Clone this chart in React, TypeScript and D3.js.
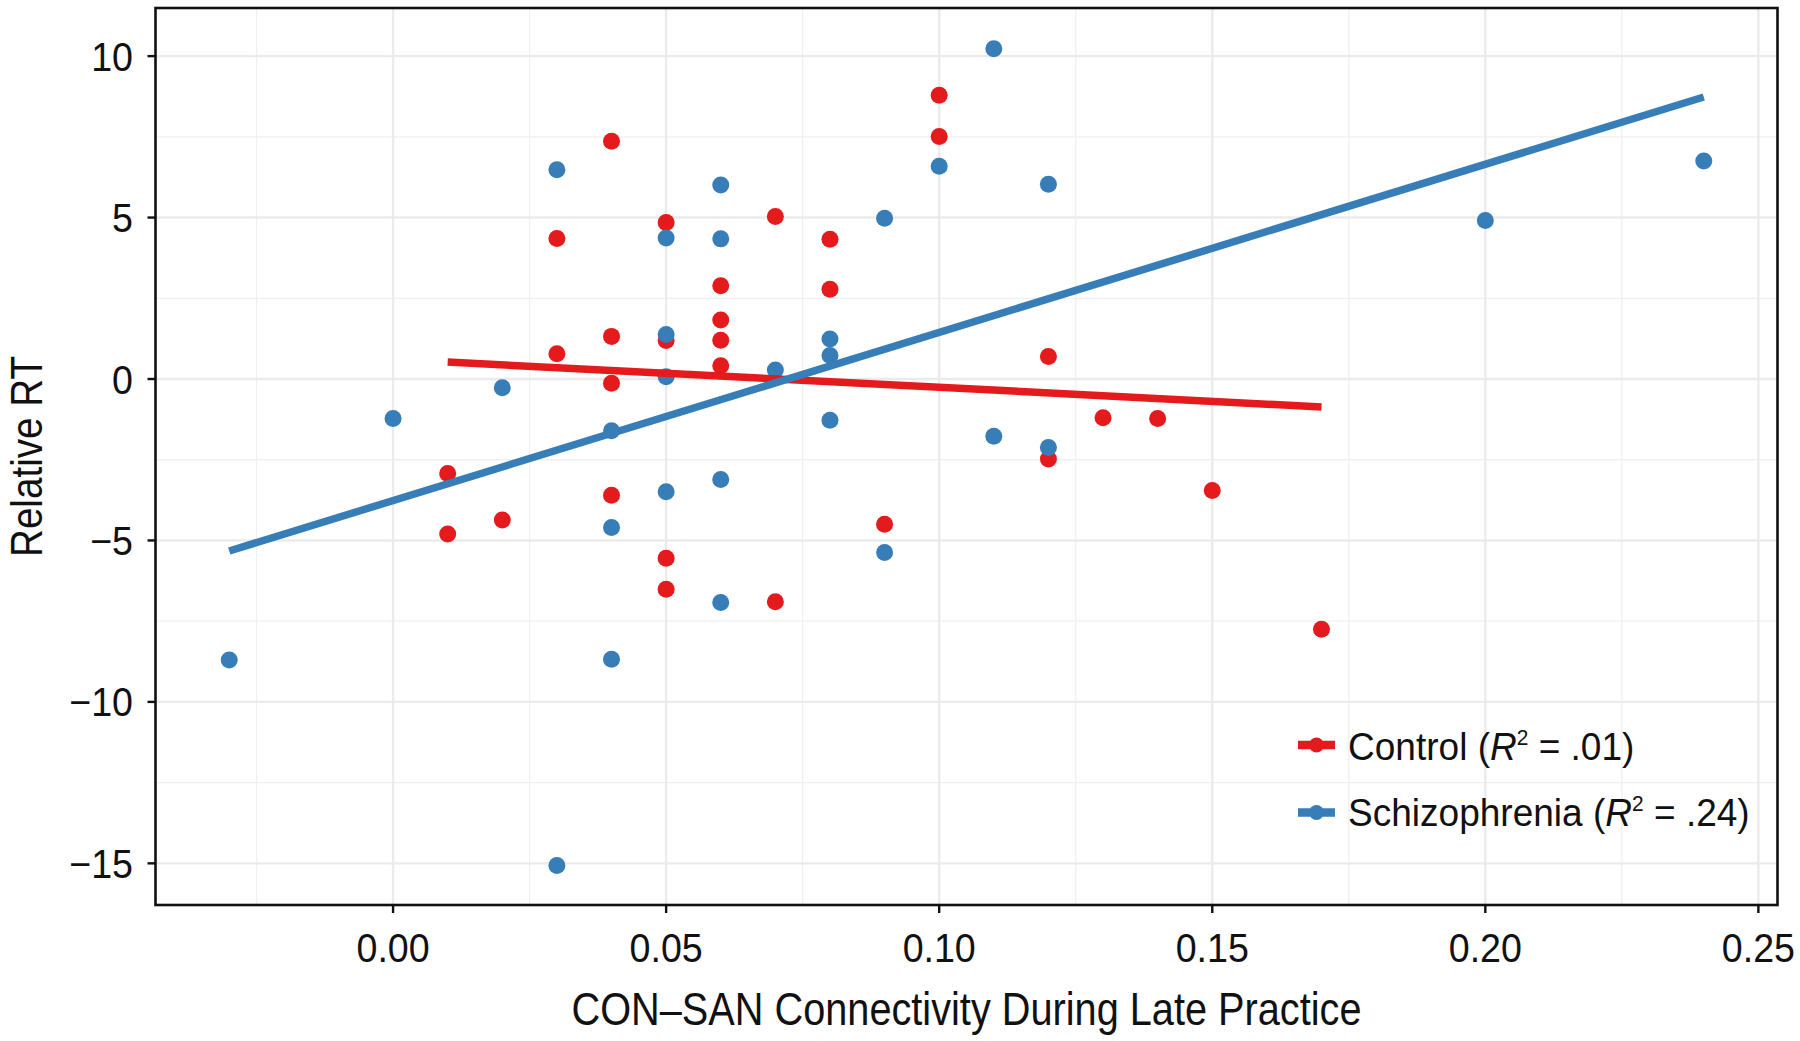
import React from "react";
import * as d3 from "d3";

// Control group (red)
const controlX = [0.01, 0.01, 0.02, 0.03, 0.03, 0.04, 0.04, 0.04, 0.04, 0.05, 0.05, 0.05, 0.05, 0.06, 0.06, 0.06, 0.06, 0.07, 0.07, 0.08, 0.08, 0.09, 0.10, 0.10, 0.12, 0.12, 0.13, 0.14, 0.15, 0.17];
const controlY = [-2.93, -4.8, -4.37, 4.35, 0.78, 7.36, 1.32, -0.13, -3.6, 4.85, 1.19, -5.55, -6.51, 2.89, 1.83, 1.2, 0.41, 5.03, -6.9, 4.33, 2.78, -4.5, 8.79, 7.51, 0.7, -2.48, -1.2, -1.22, -3.45, -7.75];

// Schizophrenia group (blue)
const schizX = [-0.03, 0.0, 0.02, 0.03, 0.03, 0.04, 0.04, 0.04, 0.05, 0.05, 0.05, 0.05, 0.06, 0.06, 0.06, 0.06, 0.07, 0.08, 0.08, 0.08, 0.09, 0.09, 0.10, 0.11, 0.11, 0.12, 0.12, 0.20, 0.24];
const schizY = [-8.7, -1.22, -0.27, 6.48, -15.07, -1.6, -4.6, -8.68, 4.37, 1.38, 0.07, -3.49, 6.01, 4.34, -3.11, -6.92, 0.28, 1.24, 0.73, -1.28, 4.98, -5.37, 6.59, 10.23, -1.77, 6.03, -2.12, 4.91, 6.75];

const xTicks = [0.0, 0.05, 0.1, 0.15, 0.2, 0.25];
const xMinor = [-0.025, 0.025, 0.075, 0.125, 0.175, 0.225];
const yTicks = [-15, -10, -5, 0, 5, 10];
const yMinor = [-12.5, -7.5, -2.5, 2.5, 7.5];

const groupNames = ["Control", "Schizophrenia"];
const groupR2 = [".01", ".24"];
const colors = ["#E41A1C", "#377EB8"];

const xTitle = "CON\u2013SAN Connectivity During Late Practice";
const yTitle = "Relative RT";

function fit(xs: number[], ys: number[]) {
  const mx = d3.mean(xs) as number;
  const my = d3.mean(ys) as number;
  let sxy = 0, sxx = 0;
  xs.forEach((x, i) => {
    sxy += (x - mx) * (ys[i] - my);
    sxx += (x - mx) * (x - mx);
  });
  const b = sxy / sxx;
  const a = my - b * mx;
  const x0 = d3.min(xs) as number;
  const x1 = d3.max(xs) as number;
  return [
    [x0, a + b * x0],
    [x1, a + b * x1],
  ] as [number, number][];
}

const W = 1800;
const H = 1041;
const L = 155.5, R = 1777.5, T = 8, B = 905;
const FONT = "'Liberation Sans', Arial, sans-serif";

function fmtY(v: number) {
  return v < 0 ? "\u2212" + Math.abs(v) : String(v);
}

export default function App() {
  const x = d3.scaleLinear().domain([-0.0435, 0.2535]).range([L, R]);
  const y = d3.scaleLinear().domain([-16.29, 11.49]).range([B, T]);
  const line = d3.line<[number, number]>().x((d) => x(d[0])).y((d) => y(d[1]));

  const groups = [
    { xs: controlX, ys: controlY, color: colors[0] },
    { xs: schizX, ys: schizY, color: colors[1] },
  ];

  const legendKeyY = [745, 812.5];
  const legendBase = [760, 826];

  return (
    <svg width={W} height={H} style={{ position: "absolute", left: 0, top: 0, background: "#fff" }} fontFamily={FONT}>
      <rect x={0} y={0} width={W} height={H} fill="#fff" />
      {/* minor grid */}
      {xMinor.map((v) => (
        <line key={"xm" + v} x1={x(v)} x2={x(v)} y1={T} y2={B} stroke="#f0f0f0" strokeWidth={1.3} />
      ))}
      {yMinor.map((v) => (
        <line key={"ym" + v} y1={y(v)} y2={y(v)} x1={L} x2={R} stroke="#f0f0f0" strokeWidth={1.3} />
      ))}
      {/* major grid */}
      {xTicks.map((v) => (
        <line key={"xg" + v} x1={x(v)} x2={x(v)} y1={T} y2={B} stroke="#ebebeb" strokeWidth={2.4} />
      ))}
      {yTicks.map((v) => (
        <line key={"yg" + v} y1={y(v)} y2={y(v)} x1={L} x2={R} stroke="#ebebeb" strokeWidth={2.4} />
      ))}

      {/* points */}
      {groups.map((g, gi) =>
        g.xs.map((xv, i) => (
          <circle key={gi + "-" + i} cx={x(xv)} cy={y(g.ys[i])} r={8.5} fill={g.color} />
        ))
      )}
      {/* regression lines */}
      {groups.map((g, gi) => (
        <path key={"l" + gi} d={line(fit(g.xs, g.ys)) || ""} stroke={g.color} strokeWidth={7.5} fill="none" />
      ))}

      {/* panel border */}
      <rect x={L} y={T} width={R - L} height={B - T} fill="none" stroke="#111" strokeWidth={2.6} />

      {/* x axis ticks */}
      {xTicks.map((v) => (
        <g key={"xt" + v}>
          <line x1={x(v)} x2={x(v)} y1={B} y2={B + 8} stroke="#111" strokeWidth={2.4} />
          <text
            transform={`translate(${x(v)}, 962) scale(0.94, 1)`}
            textAnchor="middle"
            fontSize={40}
            fill="#111"
          >
            {v.toFixed(2)}
          </text>
        </g>
      ))}
      {/* y axis ticks */}
      {yTicks.map((v) => (
        <g key={"yt" + v}>
          <line x1={L - 8} x2={L} y1={y(v)} y2={y(v)} stroke="#111" strokeWidth={2.4} />
          <text
            transform={`translate(133, ${y(v) + 14.5}) scale(0.94, 1)`}
            textAnchor="end"
            fontSize={40}
            fill="#111"
          >
            {fmtY(v)}
          </text>
        </g>
      ))}

      {/* axis titles */}
      <text
        x={(L + R) / 2}
        y={1025}
        textAnchor="middle"
        fontSize={47}
        fill="#111"
        textLength={790}
        lengthAdjust="spacingAndGlyphs"
      >
        {xTitle}
      </text>
      <text
        transform={`translate(42, ${(T + B) / 2}) rotate(-90)`}
        textAnchor="middle"
        fontSize={45}
        fill="#111"
        textLength={201}
        lengthAdjust="spacingAndGlyphs"
      >
        {yTitle}
      </text>

      {/* legend */}
      {groupNames.map((name, i) => (
        <g key={"lg" + i}>
          <line x1={1298} x2={1335} y1={legendKeyY[i]} y2={legendKeyY[i]} stroke={colors[i]} strokeWidth={8.5} />
          <circle cx={1316.5} cy={legendKeyY[i]} r={7.5} fill={colors[i]} />
          <text transform={`translate(1348, ${legendBase[i]}) scale(0.95, 1)`} fontSize={39} fill="#111">
            {name + " ("}
            <tspan fontStyle="italic">R</tspan>
            <tspan dy={-15} fontSize={22}>2</tspan>
            <tspan dy={15}>{" = " + groupR2[i] + ")"}</tspan>
          </text>
        </g>
      ))}
    </svg>
  );
}
